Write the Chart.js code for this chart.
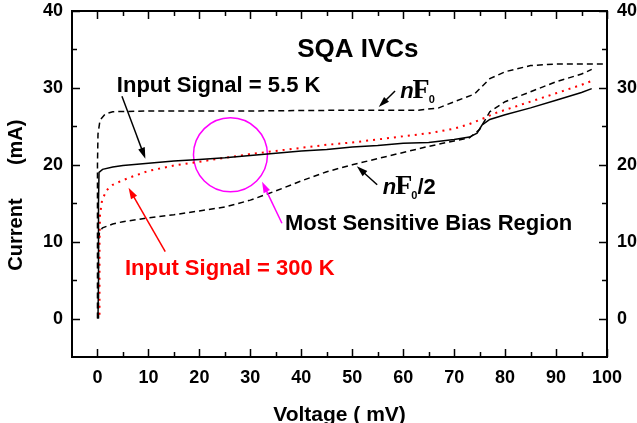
<!DOCTYPE html>
<html>
<head>
<meta charset="utf-8">
<script src="https://cdn.jsdelivr.net/npm/chart.js@4.4.0/dist/chart.umd.min.js"></script>
<style>
    html, body { margin: 0; padding: 0; background: #fff; }
</style>
</head>
<body>
<canvas id="ivcChart" width="637" height="423"></canvas>
<script>
// tick labels
const xTickValues = [0, 10, 20, 30, 40, 50, 60, 70, 80, 90, 100];
const yTickValues = [0, 10, 20, 30, 40];

// Input Signal = 5.5 K (solid)
const lowTempV = [0.1, 0.2, 0.2, 0.2, 0.3, 1, 3, 5, 10, 15, 20, 25, 30, 35, 40, 45, 50, 55, 60, 65, 70, 73, 74.5, 75.5, 77, 80, 85, 90, 95, 97];
const lowTempI = [0, 5, 10, 15, 19, 19.4, 19.7, 19.9, 20.2, 20.5, 20.7, 20.9, 21.2, 21.5, 21.8, 22, 22.3, 22.5, 22.8, 22.9, 23.3, 23.6, 24.1, 25.2, 25.9, 26.5, 27.4, 28.4, 29.4, 29.9];

// Input Signal = 300 K (red dots)
const roomTempV = [0.4, 0.4, 0.4, 0.5, 0.9, 1.8, 3, 5, 7, 10, 15, 20, 25, 30, 35, 40, 45, 50, 55, 60, 65, 70, 73, 76, 78, 84, 90, 95, 97];
const roomTempI = [0.5, 5, 10, 13.5, 15.4, 16.7, 17.4, 18, 18.5, 19.2, 19.9, 20.4, 20.9, 21.4, 21.8, 22.2, 22.6, 22.9, 23.3, 23.7, 24.1, 24.7, 25.3, 26.1, 26.7, 28, 29.3, 30.4, 30.9];

// n*Phi0 (upper dashed)
const fluxFullV = [0, 0, 0, 0.1, 0.5, 1.5, 3, 10, 30, 50, 63, 67, 70, 74, 77, 80, 85, 90, 100];
const fluxFullI = [0, 10, 20, 24, 25.8, 26.6, 26.9, 27, 27, 27.1, 27.1, 27.4, 28.2, 29.2, 31.2, 32.1, 32.9, 33.1, 33.1];

// n*Phi0/2 (lower dashed)
const fluxHalfV = [0.2, 0.2, 0.2, 0.4, 1, 3, 5, 10, 15, 20, 25, 30, 35, 40, 45, 50, 55, 60, 65, 70, 73, 75, 77, 80, 85, 90, 95, 97];
const fluxHalfI = [0, 5, 10, 11.3, 11.8, 12.3, 12.6, 13.1, 13.5, 14, 14.5, 15.4, 16.6, 17.9, 19.1, 20, 20.8, 21.6, 22.4, 23.1, 23.5, 24.6, 26.9, 28.2, 29.5, 30.8, 31.8, 32.4];

// most sensitive bias region (circle centre)
const biasRegionV = [26.1];
const biasRegionI = [21.3];

const toPoints = (xs, ys) => xs.map((v, i) => ({ x: v, y: ys[i] }));

const SANS = "'Liberation Sans', Arial, sans-serif";
const SERIF = "'Liberation Serif', 'Times New Roman', serif";
Chart.defaults.font.family = SANS;
Chart.defaults.color = "#000";

// text and arrows, placed in data units
const notes = [
    { text: "SQA IVCs", x: 51.1, y: 35.0, size: 26, color: "#000", align: "center" },
    { text: "Input Signal = 5.5 K", x: 3.8, y: 30.2, size: 22, color: "#000", align: "left" },
    { text: "Input Signal = 300 K", x: 5.4, y: 6.4, size: 22, color: "#f00", align: "left" },
    { text: "Most Sensitive Bias Region", x: 36.8, y: 12.3, size: 22, color: "#000", align: "left" }
];
const arrows = [
    { from: [4.8, 28.9], to: [9.4, 20.8], color: "#000" },
    { from: [13.3, 8.7], to: [6.1, 17.0], color: "#f00" },
    { from: [36.2, 12.4], to: [32.3, 17.8], color: "#f0f" },
    { from: [58.4, 29.6], to: [55.2, 27.5], color: "#000" },
    { from: [54.9, 17.4], to: [50.9, 19.8], color: "#000" }
];
const fluxLabels = [
    { x: 59.4, y: 28.7, tail: "" },
    { x: 56.0, y: 16.2, tail: "/2" }
];

function drawArrow(ctx, x1, y1, x2, y2, color) {
    const a = Math.atan2(y2 - y1, x2 - x1);
    const c = Math.cos(a), s = Math.sin(a);
    const head = 11, half = 3.5;
    ctx.strokeStyle = color;
    ctx.fillStyle = color;
    ctx.lineWidth = 1.5;
    ctx.beginPath();
    ctx.moveTo(x1, y1);
    ctx.lineTo(x2 - head * 0.8 * c, y2 - head * 0.8 * s);
    ctx.stroke();
    ctx.beginPath();
    ctx.moveTo(x2, y2);
    ctx.lineTo(x2 - head * c + half * s, y2 - head * s - half * c);
    ctx.lineTo(x2 - head * c - half * s, y2 - head * s + half * c);
    ctx.closePath();
    ctx.fill();
}

const frameAndNotes = {
    id: "frameAndNotes",
    afterDraw(chart) {
        const { ctx, chartArea: area, scales: { x, y } } = chart;
        ctx.save();

        // inward ticks, major every 10, minor every 5
        ctx.strokeStyle = "#000";
        ctx.lineWidth = 1.5;
        ctx.beginPath();
        for (let v = 0; v <= 100; v += 5) {
            const px = Math.round(x.getPixelForValue(v)) + 0.5;
            const len = v % 10 === 0 ? 8 : 5;
            ctx.moveTo(px, area.bottom); ctx.lineTo(px, area.bottom - len);
            ctx.moveTo(px, area.top); ctx.lineTo(px, area.top + len);
        }
        for (let v = 0; v <= 40; v += 5) {
            const py = Math.round(y.getPixelForValue(v)) + 0.5;
            const len = v % 10 === 0 ? 8 : 5;
            ctx.moveTo(area.left, py); ctx.lineTo(area.left + len, py);
            ctx.moveTo(area.right, py); ctx.lineTo(area.right - len, py);
        }
        ctx.stroke();
        ctx.lineWidth = 2;
        ctx.strokeRect(area.left, area.top, area.right - area.left, area.bottom - area.top);

        // labels
        ctx.textBaseline = "middle";
        notes.forEach(n => {
            ctx.font = "bold " + n.size + "px " + SANS;
            ctx.fillStyle = n.color;
            ctx.textAlign = n.align;
            ctx.fillText(n.text, x.getPixelForValue(n.x), y.getPixelForValue(n.y));
        });

        // n F0 labels
        ctx.textBaseline = "alphabetic";
        ctx.textAlign = "left";
        ctx.fillStyle = "#000";
        fluxLabels.forEach(f => {
            let px = x.getPixelForValue(f.x);
            const py = y.getPixelForValue(f.y);
            ctx.font = "italic bold 22px " + SANS;
            ctx.fillText("n", px, py);
            px += ctx.measureText("n").width - 1;
            ctx.font = "bold 28px " + SERIF;
            ctx.fillText("F", px, py);
            px += ctx.measureText("F").width;
            ctx.font = "bold 11px " + SANS;
            ctx.fillText("0", px - 1, py + 5);
            px += ctx.measureText("0").width;
            if (f.tail) {
                ctx.font = "bold 22px " + SANS;
                ctx.fillText(f.tail, px - 1, py);
            }
        });

        arrows.forEach(ar => {
            drawArrow(ctx,
                x.getPixelForValue(ar.from[0]), y.getPixelForValue(ar.from[1]),
                x.getPixelForValue(ar.to[0]), y.getPixelForValue(ar.to[1]), ar.color);
        });
        ctx.restore();
    }
};

const tickFont = { family: SANS, size: 18, weight: "bold" };

// fixed box sizes so the plot area sits where the original has it
const fixVertical = w => s => { s.width = w; s.paddingTop = 0; s.paddingBottom = 0; };
const fixHorizontal = h => s => { s.height = h; s.paddingLeft = 0; s.paddingRight = 0; };

new Chart(document.getElementById("ivcChart").getContext("2d"), {
    type: "line",
    data: {
        datasets: [
            {
                data: toPoints(lowTempV, lowTempI),
                borderColor: "#000",
                borderWidth: 1.5
            },
            {
                data: toPoints(roomTempV, roomTempI),
                borderColor: "#f00",
                borderWidth: 2,
                borderDash: [2, 5]
            },
            {
                data: toPoints(fluxFullV, fluxFullI),
                borderColor: "#000",
                borderWidth: 1.5,
                borderDash: [6, 4]
            },
            {
                data: toPoints(fluxHalfV, fluxHalfI),
                borderColor: "#000",
                borderWidth: 1.5,
                borderDash: [6, 4]
            },
            {
                type: "scatter",
                data: toPoints(biasRegionV, biasRegionI),
                pointRadius: 37,
                pointStyle: "circle",
                borderColor: "#f0f",
                backgroundColor: "rgba(0,0,0,0)",
                pointBorderWidth: 1.5,
                borderWidth: 1.5
            }
        ]
    },
    options: {
        responsive: false,
        animation: false,
        events: [],
        elements: {
            point: { radius: 0 },
            line: { tension: 0, fill: false }
        },
        layout: { autoPadding: false, padding: { top: 11, left: 0, right: 0, bottom: 0 } },
        plugins: {
            legend: { display: false },
            tooltip: { enabled: false }
        },
        scales: {
            x: {
                type: "linear",
                min: -5,
                max: 100,
                afterBuildTicks: s => { s.ticks = xTickValues.map(v => ({ value: v })); },
                afterFit: fixHorizontal(66),
                grid: { display: false, drawTicks: false },
                border: { display: false },
                ticks: { font: tickFont, padding: 10, maxRotation: 0, autoSkip: false },
                title: {
                    display: true,
                    text: "Voltage ( mV)",
                    font: { family: SANS, size: 21, weight: "bold", lineHeight: 1 },
                    padding: { top: 0, bottom: -3 }
                }
            },
            y: {
                position: "left",
                min: -5,
                max: 40,
                afterBuildTicks: s => { s.ticks = yTickValues.map(v => ({ value: v })); },
                afterFit: fixVertical(72),
                grid: { display: false, drawTicks: false },
                border: { display: false },
                ticks: { font: tickFont, padding: 9 },
                title: {
                    display: true,
                    text: "Current      (mA)    ",
                    font: { family: SANS, size: 20, weight: "bold" },
                    padding: { top: 4, bottom: 0 }
                }
            },
            y2: {
                position: "right",
                min: -5,
                max: 40,
                afterBuildTicks: s => { s.ticks = yTickValues.map(v => ({ value: v })); },
                afterFit: fixVertical(30),
                grid: { display: false, drawTicks: false },
                border: { display: false },
                ticks: { font: tickFont, padding: 10 }
            }
        }
    },
    plugins: [frameAndNotes]
});
</script>
</body>
</html>
